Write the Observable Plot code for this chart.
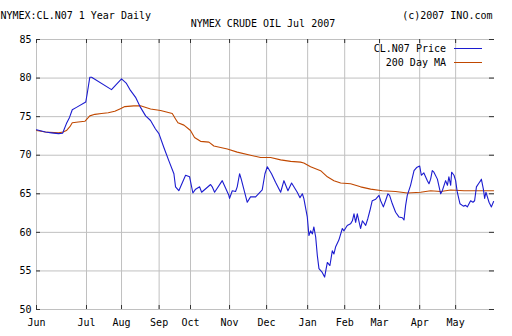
<!DOCTYPE html>
<html>
<head>
<meta charset="utf-8">
<script src="https://cdn.jsdelivr.net/npm/d3@7"></script>
<script src="https://cdn.jsdelivr.net/npm/@observablehq/plot@0.6"></script>
<style>
  body { margin: 0; background: white; }
  #wrap { position: relative; width: 512px; height: 336px; font-family: "DejaVu Sans Mono", monospace; font-size: 10px; color: #000; }
  .lg-text { position: absolute; right: 66px; height: 12px; line-height: 12px; white-space: nowrap; }
  .lg-line { position: absolute; left: 454px; width: 28px; height: 1px; }
</style>
</head>
<body>
<div id="wrap"></div>
<script>
// ---- data (x = trading-day index from start of June 2006) ----
const monthNames = ["Jun","Jul","Aug","Sep","Oct","Nov","Dec","Jan","Feb","Mar","Apr","May"];
const monthTickDays = [0, 27.4, 46.6, 67.2, 84.4, 105.8, 126.1, 148.6, 168.9, 188.0, 210.0, 229.7];
const yTicks = [50, 55, 60, 65, 70, 75, 80, 85];

const priceDay = [0,4.9,8.2,12.1,14.3,16.4,18.1,19.6,21.9,27.0,
  27.8,29.2,30.2,41.1,46.6,49.3,51.5,54.3,57.0,59.8,
  62.5,65.2,67.1,69.8,72.5,75.3,76.2,78.0,81.7,83.9,
  85.7,87.2,89.4,90.5,95.4,96.3,97.6,101.8,105.4,105.8,
  107.3,109.1,110.0,111.3,112.2,115.5,117.3,120.1,123.7,125.2,
  126.5,128.8,131.0,133.8,135.6,137.8,139.8,142.9,144.4,145.7,
  146.5,148.4,149.3,150.2,151.2,152.0,153.0,153.9,154.8,156.6,
  157.9,158.6,159.4,160.8,162.1,163.0,163.9,165.7,167.6,168.5,
  170.3,172.1,173.1,174.0,174.9,175.8,177.6,178.6,180.4,181.6,
  182.7,184.0,185.9,187.7,188.6,190.1,191.3,192.6,193.5,195.0,
  196.8,198.6,200.5,201.4,202.3,203.2,205.0,206.9,208.3,210.0,
  210.9,212.3,214.2,215.1,216.0,216.9,217.8,219.7,221.5,222.4,
  224.2,225.2,226.0,227.0,227.5,228.8,229.7,230.6,232.1,233.9,
  235.2,236.1,237.9,239.2,240.1,241.1,242.5,243.4,243.8,244.9,
  245.6,246.3,247.1,248.0,249.3,250.5];
const priceVal = [73.3,73.0,72.9,72.8,72.85,74.1,74.9,75.9,76.2,76.9,
  78.0,80.1,80.1,78.5,79.9,79.3,78.4,77.5,76.2,75.1,
  74.5,73.4,72.8,71.0,69.3,67.6,65.9,65.4,67.4,67.2,
  65.1,65.6,65.9,65.2,66.2,65.9,65.2,66.7,64.8,64.4,
  65.4,65.3,65.9,67.6,66.9,63.9,64.6,64.6,65.5,67.6,
  68.5,67.6,66.5,65.2,66.7,65.4,66.4,65.2,64.5,65.0,
  64.4,62.0,59.6,60.2,59.8,60.7,59.4,57.0,55.3,54.8,
  54.2,55.1,56.1,55.7,57.6,57.2,58.1,59.0,60.5,60.2,
  60.9,61.1,61.5,62.4,61.3,62.4,60.5,61.5,60.9,61.8,
  62.8,64.1,64.3,64.8,64.1,63.3,64.1,65.0,64.8,63.7,
  62.6,62.0,61.9,61.6,63.5,64.8,66.1,68.0,68.4,68.6,
  67.4,67.7,66.7,66.3,66.9,68.0,67.8,66.9,65.0,65.4,
  66.7,66.1,67.2,66.1,67.8,67.4,66.7,65.2,63.7,63.4,
  63.5,63.3,64.1,63.9,64.1,65.9,66.4,66.7,66.9,65.6,
  64.4,65.2,64.6,63.9,63.3,64.0];

const maDay = [0,4.9,12.1,14.6,16.4,18.3,19.6,22.9,26.5,29.2,
  32.0,35.6,39.3,42.9,45.7,48.4,53.3,57.0,62.5,68.0,
  74.4,76.2,77.5,80.8,84.4,86.6,89.9,94.5,97.2,104.6,
  110.0,117.3,122.8,128.3,133.8,139.3,144.7,146.5,150.2,155.7,
  159.4,163.0,166.7,172.1,177.6,183.1,189.5,196.8,203.2,210.5,
  216.0,221.5,227.0,234.3,250.5];
const maVal = [73.2,73.0,72.9,73.0,73.2,73.7,74.2,74.3,74.4,75.1,
  75.3,75.4,75.5,75.7,76.0,76.3,76.4,76.4,76.0,75.8,
  75.4,74.7,74.2,73.9,73.2,72.3,71.8,71.7,71.2,70.8,
  70.4,70.0,69.7,69.7,69.4,69.2,69.1,69.0,68.5,68.0,
  67.2,66.7,66.4,66.3,65.9,65.6,65.4,65.3,65.1,65.2,
  65.4,65.3,65.5,65.4,65.4];

const titleLeft = "NYMEX:CL.N07 1 Year Daily";
const titleCenter = "NYMEX CRUDE OIL Jul 2007";
const titleRight = "(c)2007 INO.com";
const seriesNames = ["CL.N07 Price", "200 Day MA"];
const seriesColors = ["#1c1cd0", "#c04800"];

// ---- build ----
const price = priceDay.map((d, i) => ({day: d, value: priceVal[i]}));
const ma = maDay.map((d, i) => ({day: d, value: maVal[i]}));
const nameOf = new Map(monthTickDays.map((d, i) => [d, monthNames[i]]));
const grid = "#c0c0c0";
const dark = "#333333";

const chart = Plot.plot({
  width: 512,
  height: 336,
  marginLeft: 36,
  marginRight: 18,
  marginTop: 39,
  marginBottom: 27,
  style: {fontFamily: "DejaVu Sans Mono, monospace", fontSize: "10px", color: "#000", background: "white"},
  x: {type: "linear", domain: [0, 251]},
  y: {domain: [50, 85]},
  marks: [
    Plot.gridY(yTicks, {stroke: grid, strokeOpacity: 1}),
    Plot.gridX(monthTickDays, {stroke: grid, strokeOpacity: 1}),
    Plot.ruleX(monthTickDays, {stroke: dark, insetBottom: 266}),
    Plot.ruleX(monthTickDays, {stroke: dark, insetTop: 266}),
    Plot.ruleY(yTicks, {stroke: dark, insetRight: 454}),
    Plot.ruleY(yTicks, {stroke: dark, insetLeft: 453}),
    Plot.axisY(yTicks, {tickSize: 0, tickPadding: 5, label: null, fontSize: 10}),
    Plot.axisX(monthTickDays, {tickSize: 0, tickPadding: 9, label: null, fontSize: 10, tickFormat: d => nameOf.get(d)}),
    Plot.line(ma, {x: "day", y: "value", stroke: seriesColors[1], strokeWidth: 1.1}),
    Plot.line(price, {x: "day", y: "value", stroke: seriesColors[0], strokeWidth: 1.1}),
    Plot.text([titleLeft], {text: d => d, frameAnchor: "top-left", dx: -36, dy: -28, textAnchor: "start", fontSize: 10}),
    Plot.text([titleRight], {text: d => d, frameAnchor: "top-right", dx: -2, dy: -28, textAnchor: "end", fontSize: 10}),
    Plot.text([titleCenter], {text: d => d, frameAnchor: "top", dx: -2.5, dy: -20, textAnchor: "middle", fontSize: 10})
  ]
});

const wrap = document.getElementById("wrap");
wrap.appendChild(chart);
chart.style.position = "absolute";
chart.style.left = "0";
chart.style.top = "0";

// legend overlay (inside plot, top right)
seriesNames.forEach((name, i) => {
  const t = document.createElement("div");
  t.className = "lg-text";
  t.textContent = name;
  t.style.top = (43 + i * 14) + "px";
  wrap.appendChild(t);
  const l = document.createElement("div");
  l.className = "lg-line";
  l.style.top = (48 + i * 14) + "px";
  l.style.background = seriesColors[i];
  wrap.appendChild(l);
});
</script>
</body>
</html>
